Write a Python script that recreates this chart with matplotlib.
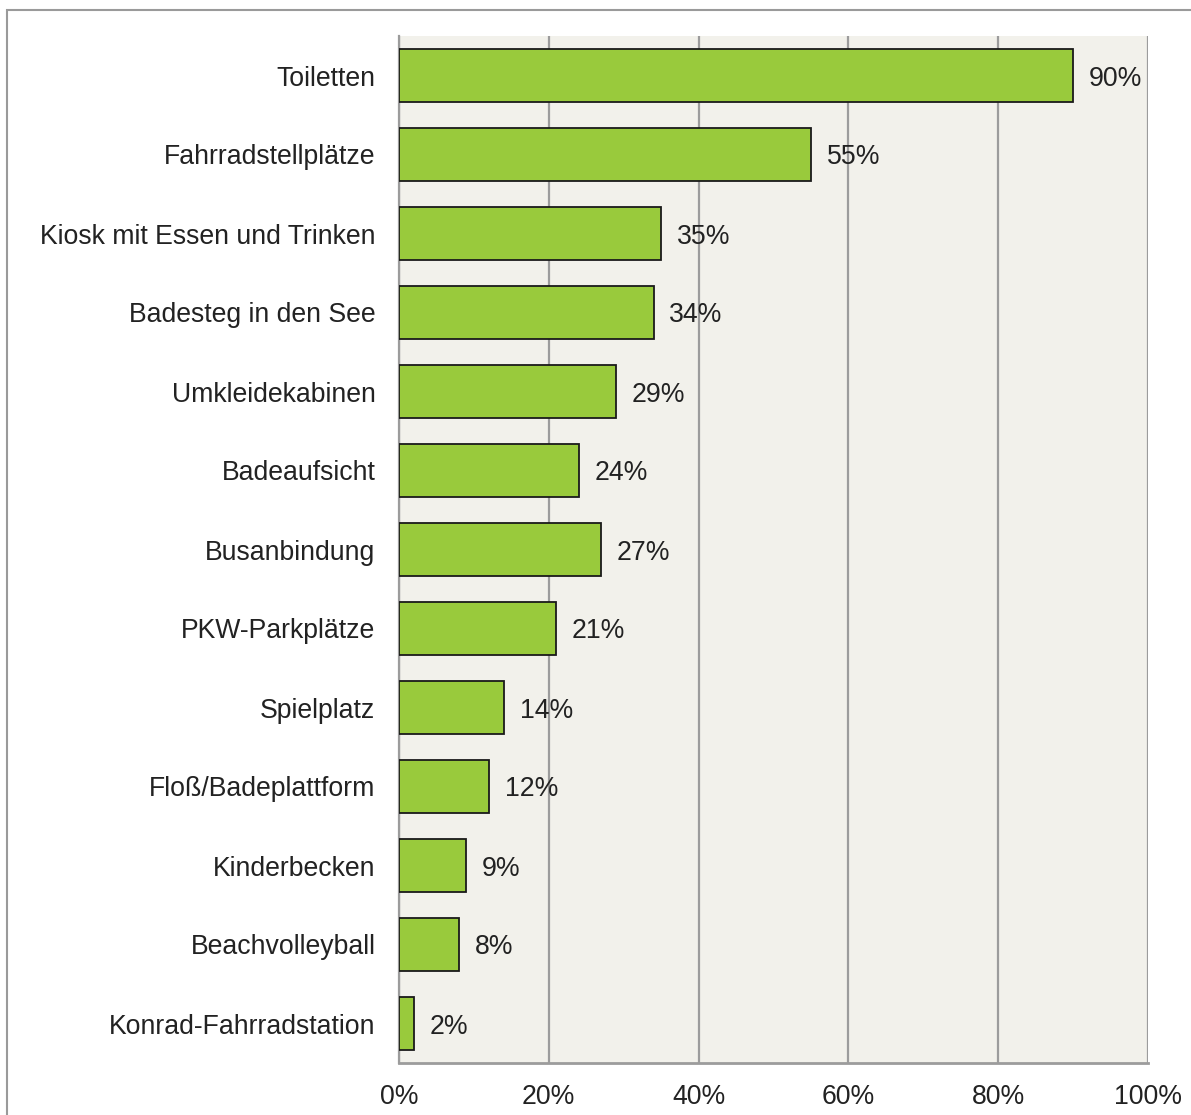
import matplotlib.pyplot as plt
from matplotlib.patches import Rectangle
from matplotlib import font_manager

kategorien = ["Toiletten", "Fahrradstellplätze", "Kiosk mit Essen und Trinken",
              "Badesteg in den See", "Umkleidekabinen", "Badeaufsicht",
              "Busanbindung", "PKW-Parkplätze", "Spielplatz", "Floß/Badeplattform",
              "Kinderbecken", "Beachvolleyball", "Konrad-Fahrradstation"]
werte = [90, 55, 35, 34, 29, 24, 27, 21, 14, 12, 9, 8, 2]
ticks = [0, 20, 40, 60, 80, 100]
tick_labels = ["0%", "20%", "40%", "60%", "80%", "100%"]

fp = font_manager.FontProperties(family=['Liberation Sans', 'DejaVu Sans'], size=19.2)

fig = plt.figure(figsize=(11.91, 11.15), dpi=100)
# Rahmen um die Grafik
fig.patches.append(Rectangle((7 / 1191, -0.1), 1.2, 1 - 10 / 1115 + 0.1,
                             transform=fig.transFigure, fill=False,
                             edgecolor='#9a9a9a', linewidth=1.5))

ax = fig.add_axes([399 / 1191, 1 - 1063 / 1115, (1148 - 399) / 1191, (1063 - 36) / 1115])
ax.set_facecolor('#f2f1eb')

y = list(range(len(kategorien)))
ax.barh(y, werte, height=0.66, color='#99ca3c', edgecolor='#1a1a1a', linewidth=1.3, zorder=3)
for yi, w in zip(y, werte):
    ax.text(w + 2.1, yi, f"{w}%", va='center_baseline', ha='left', fontproperties=fp,
            color='#222222', zorder=4)

ax.set_ylim(len(kategorien) - 0.5, -0.5)
ax.set_xlim(0, 100)
ax.set_yticks(y)
ax.set_yticklabels(kategorien, fontproperties=fp, color='#222222')
ax.set_xticks(ticks)
ax.set_xticklabels(tick_labels, fontproperties=fp, color='#222222')
ax.tick_params(axis='y', length=0, pad=17)
ax.tick_params(axis='x', length=0, pad=15)
ax.grid(axis='x', color='#9c9c9c', linewidth=1.6, zorder=1)
for s in ['top', 'right']:
    ax.spines[s].set_visible(False)
ax.spines['left'].set_color('#9c9c9c')
ax.spines['left'].set_linewidth(1.6)
ax.spines['bottom'].set_color('#9c9c9c')
ax.spines['bottom'].set_linewidth(2)

fig.savefig('out.png', dpi=100)
